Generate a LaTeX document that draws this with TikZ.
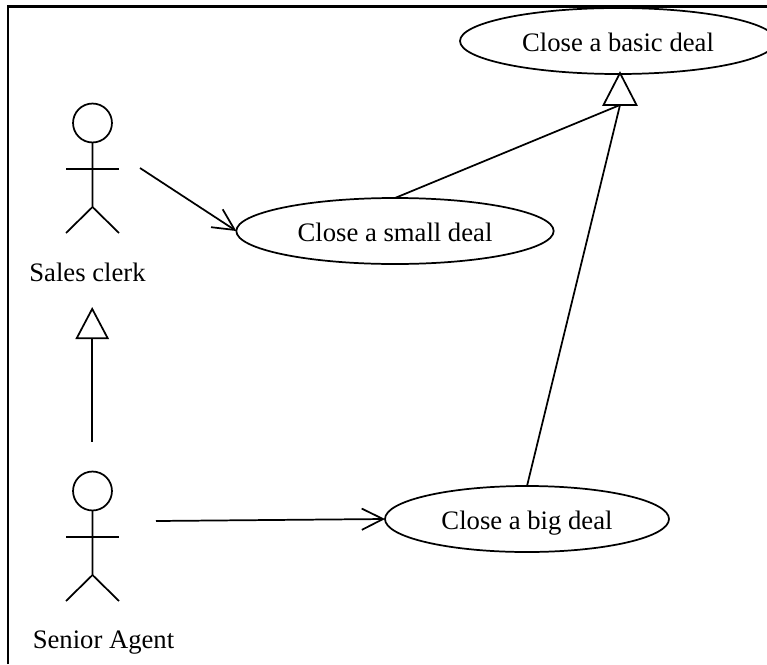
\documentclass[tikz,border=0pt]{standalone}
\usepackage{fontspec}
\setmainfont{Liberation Serif}
\usetikzlibrary{shapes.geometric,arrows.meta}

\begin{document}
\begin{tikzpicture}[
      x=0.75pt, y=-0.75pt, line width=1.3pt,
      font=\fontsize{20}{24}\selectfont,
      usecase/.style={draw,ellipse,inner sep=0pt,outer sep=0pt,minimum height=49.5pt,text height=15pt,text depth=0pt},
      actorname/.style={inner sep=0pt,text height=14pt,text depth=0pt},
      uses/.style={-{Straight Barb[length=16pt,width=16pt]}},
      hollow/.style={-{Triangle[open,length=24pt,width=25pt,fill=white]}}
    ]
    \useasboundingbox (0, 0) rectangle (767, 664);
    \draw[line width=1.9pt] (8, 664) -- (8, 6.7) -- (767, 6.7);

    \node[usecase, minimum width=237pt] (basic) at (618, 41) {Close a basic deal};
    \node[usecase, minimum width=238pt] (small) at (395, 231) {Close a small deal};
    \node[usecase, minimum width=213pt] (big) at (527, 519) {Close a big deal};

    \foreach \y in {0, 368}{
      \draw ([yshift=-\y*0.75pt]92.5, 123) circle (14.6pt);
      \draw (92.5, 143+\y) -- ++(0, 64) -- ++(-26.5, 26);
      \draw (92.5, 207+\y) -- ++(26.5, 26);
      \draw (66, 169+\y) -- ++(53, 0);
    }
    \node[actorname] (clerk) at (87.5, 271.7) {Sales clerk};
    \node[actorname] (senior) at (103.5, 639) {Senior Agent};

    \coordinate (clerkhand) at (140, 168);
    \coordinate (seniorhand) at (156, 521);
    \draw[uses] (clerkhand) -- (small.west);
    \draw[uses] (seniorhand) -- (big.west);

    \coordinate (seniortop) at (92.2, 441.5);
    \coordinate (clerkfoot) at (92.2, 307);
    \draw[hollow] (seniortop) -- (clerkfoot);

    \coordinate (basicfoot) at (620, 73);
    \coordinate (basicbase) at (620, 105);
    \draw (basicfoot) -- ++(-16.5, 32) -- ++(33, 0) -- cycle;
    \draw (small.north) -- (basicbase);
    \draw (big.north) -- (basicbase);
  \end{tikzpicture}
\end{document}
